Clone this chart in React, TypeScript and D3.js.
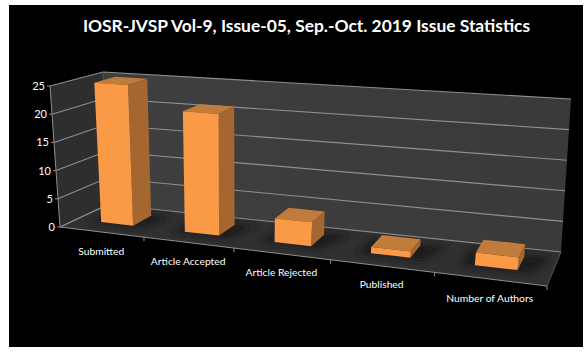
import React from "react";
import * as d3 from "d3";

const categories = ["Submitted", "Article Accepted", "Article Rejected", "Published", "Number of Authors"];
const values = [25, 21, 4, 1, 2];
const yTicks = [0, 5, 10, 15, 20, 25];
const title = "IOSR-JVSP Vol-9, Issue-05, Sep.-Oct. 2019 Issue Statistics";

type P = [number, number];
const F0: P = [60, 227], F1: P = [547, 286], B0: P = [108, 204.5], B1: P = [561, 252];
const FT0: P = [50, 86], FT1: P = [569, 121], BT0: P = [103, 72], BT1: P = [571, 99];
const K = 0.2;
const lerp = (a: P, b: P, t: number): P => [a[0] + (b[0] - a[0]) * t, a[1] + (b[1] - a[1]) * t];

const uScale = d3.scaleBand<string>().domain(categories).range([0, 1]);
const wScale = d3.scaleLinear().domain([0, 25]).range([0, 1]);
const persp = (u: number) => u / (1 + K * (1 - u));

function project(u: number, v: number, w: number): P {
  const t = persp(u);
  const floor = lerp(lerp(F0, F1, t), lerp(B0, B1, t), v);
  const top = lerp(lerp(FT0, FT1, t), lerp(BT0, BT1, t), v);
  return lerp(floor, top, w);
}
const poly = (pts: P[]) => d3.line()(pts) + "Z";

const GRID = "#8f8f8f";
const V0 = 0.35, V1 = 0.76, BARW = 0.39;

export default function App() {
  return (
    <svg width={588} height={353} style={{ position: "absolute", left: 0, top: 0, background: "#fff" }}>
      <defs>
        <filter id="blur" x="-30%" y="-60%" width="160%" height="220%"><feGaussianBlur stdDeviation="3" /></filter>
        <linearGradient id="wall" x1="0" y1="0" x2="1" y2="0">
          <stop offset="0" stopColor="#3f3f3f" /><stop offset="1" stopColor="#3a3a3a" />
        </linearGradient>
      </defs>
      <rect x={9} y={5} width={574} height={342} fill="#000" />
      <text x={306.5} y={32} fill="#fff" textAnchor="middle" fontFamily="Lato" fontWeight={700} fontSize={17.4}>{title}</text>
      <path d={poly([F0, F1, B1, B0])} fill="#303030" />
      <path d={poly([F0, B0, BT0, FT0])} fill="#2e2e2e" />
      <path d={poly([B0, B1, BT1, BT0])} fill="url(#wall)" />
      {yTicks.map((d) => {
        const w = wScale(d);
        const a = project(0, 0, w), b = project(0, 1, w), c = project(1, 1, w);
        return (
          <g key={d}>
            <path d={d3.line()([a, b, c])!} fill="none" stroke={GRID} strokeWidth={1.1} />
            <line x1={a[0] - 3} x2={a[0]} y1={a[1]} y2={a[1]} stroke={GRID} />
            <text x={a[0] - 5} y={a[1] + 4} fill="#fff" textAnchor="end" fontFamily="Lato" fontSize={11}>{d}</text>
          </g>
        );
      })}
      <line x1={F0[0]} y1={F0[1]} x2={FT0[0]} y2={FT0[1]} stroke={GRID} />
      <line x1={B0[0]} y1={B0[1]} x2={BT0[0]} y2={BT0[1]} stroke="#555" />
      <line x1={F0[0]} y1={F0[1]} x2={B0[0]} y2={B0[1]} stroke={GRID} />
      <line x1={F0[0]} y1={F0[1]} x2={F1[0]} y2={F1[1]} stroke={GRID} />
      <line x1={F1[0]} y1={F1[1]} x2={B1[0]} y2={B1[1]} stroke="#555" />
      {categories.map((c, i) => {
        const step = uScale.step();
        const tk = project((i + 1) * step, 0, 0);
        const mid = project((i + 0.5) * step, 0, 0);
        return (
          <g key={c}>
            <line x1={tk[0]} y1={tk[1]} x2={tk[0]} y2={tk[1] + 4} stroke={GRID} />
            <text x={mid[0]} y={mid[1] + 22.5} fill="#fff" textAnchor="middle" fontFamily="Lato" fontSize={10.3}>{c}</text>
          </g>
        );
      })}
      {categories.map((c, i) => {
        const step = uScale.step();
        const u0 = uScale(c)! + step * (1 - BARW) / 2;
        const u1 = u0 + step * BARW;
        const w = wScale(values[i]);
        const p = (u: number, v: number, h: number) => project(u, v, h);
        const g = 0.025;
        return (
          <g key={c}>
            <path d={poly([p(u0 - g, V0 - 0.06, 0), p(u1 + g, V0 - 0.06, 0), p(u1 + g * 2, V1 + 0.05, 0), p(u0 - g, V1 + 0.05, 0)])} fill="#1c1c1c" filter="url(#blur)" />
            <path d={poly([p(u0, V1, w), p(u1, V1, w), p(u1, V0, w), p(u0, V0, w)])} fill="#c17b3a" />
            <path d={poly([p(u1, V0, 0), p(u1, V1, 0), p(u1, V1, w), p(u1, V0, w)])} fill="#a5672f" />
            <path d={poly([p(u0, V0, 0), p(u1, V0, 0), p(u1, V0, w), p(u0, V0, w)])} fill="#fb9a46" />
          </g>
        );
      })}
    </svg>
  );
}
